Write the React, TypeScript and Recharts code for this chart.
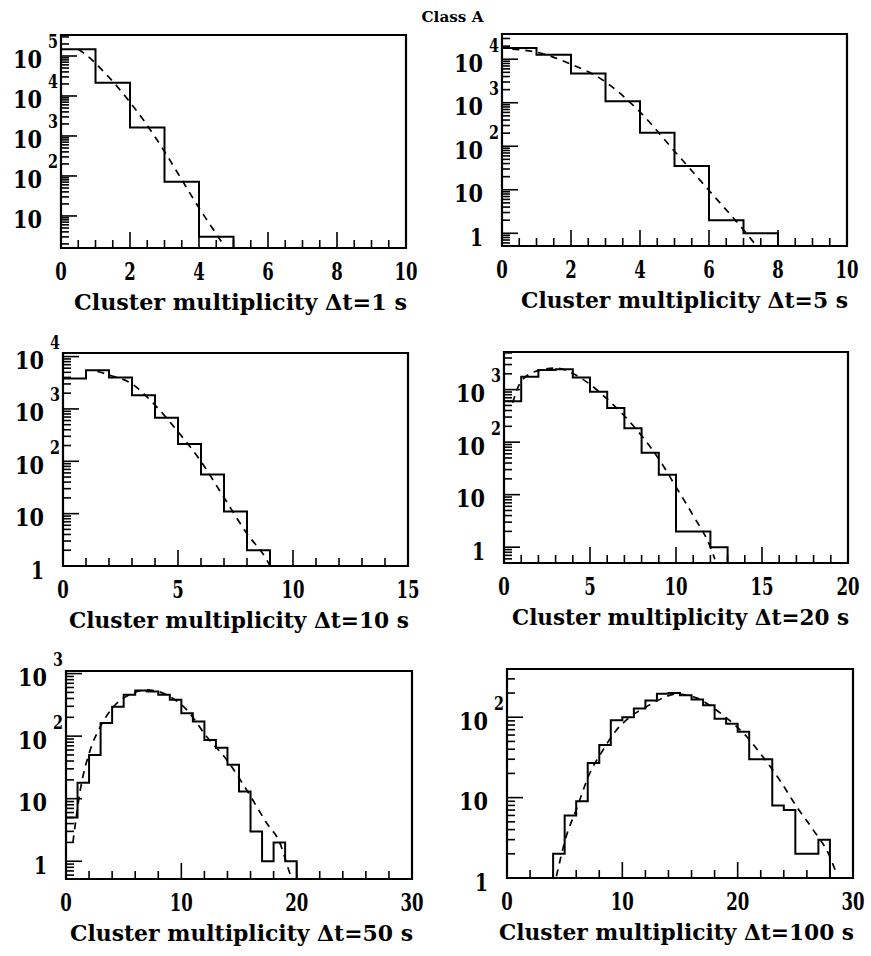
import React from "react";
import { ComposedChart, Line, XAxis, YAxis, ReferenceArea, Label } from "recharts";

// bin contents (unit-width bins)
const bins1s = [148000, 21500, 1620, 72, 3];
const bins5s = [18000, 12700, 4700, 1080, 205, 35, 2, 1];
const bins10s = [3800, 5500, 4000, 1830, 675, 213, 56, 11, 2];
const bins20s = [600, 1760, 2350, 2430, 1700, 910, 445, 184, 63, 24, 2, 2, 1];
const bins50s = [5, 18, 50, 162, 296, 457, 535, 515, 457, 380, 233, 171, 87, 65, 35, 13, 3, 1, 2, 1];
const bins100s = [2, 6, 9, 27, 45, 92, 100, 128, 162, 196, 200, 187, 166, 141, 96, 83, 66, 30, 30, 8, 7, 2, 2, 3];

// dashed fit curves, sampled along the drawn line
const fit1sX = [0.5, 0.65, 1.42, 1.95, 2.39, 2.97, 3.45, 3.98, 4.42, 4.71];
const fit1sY = [148000, 120000, 27500, 7900, 2500, 450, 95, 17, 4.5, 1.9];
const fit5sX = [0.3, 1.01, 1.98, 2.95, 3.96, 5.02, 6.04, 7.0, 7.39];
const fit5sY = [17000, 14500, 7800, 3200, 660, 74, 8.9, 1.2, 0.5];
const fit10sX = [1.5, 2.05, 3.0, 3.94, 4.95, 5.96, 6.98, 7.99, 8.86, 9.0];
const fit10sY = [5200, 4400, 3000, 1260, 390, 105, 21, 4.2, 1.3, 1];
const fit20sX = [0.5, 1.03, 2.09, 3.06, 4.03, 5.0, 6.0, 7.0, 8.0, 9.0, 10.0, 11.0, 12.0, 12.26];
const fit20sY = [560, 1500, 2350, 2570, 2000, 1260, 660, 316, 132, 48, 14, 4, 1, 0.59];
const fit50sX = [0.6, 1.24, 2.1, 2.97, 4.12, 5.86, 7.0, 8.74, 10.47, 12.2, 13.93, 15.66, 17.39, 18.55, 19.4, 19.6];
const fit50sY = [2, 13.8, 60, 141, 295, 490, 550, 457, 263, 98, 42, 13.8, 4.1, 1.95, 0.65, 0.52];
const fit100sX = [4.28, 5.14, 6.01, 7.17, 8.32, 9.48, 10.64, 12.08, 13.53, 14.68, 16.42, 18.15, 19.31, 20.75, 22.2, 23.64, 25.09, 26.53, 27.98, 28.55];
const fit100sY = [1.05, 3.3, 7.1, 20, 39, 69, 100, 135, 174, 195, 174, 123, 91, 58, 32, 16.6, 7.8, 4.0, 1.86, 1.15];

const titles = [
  "Cluster multiplicity \u0394t=1  s",
  "Cluster multiplicity \u0394t=5 s",
  "Cluster multiplicity \u0394t=10 s",
  "Cluster multiplicity \u0394t=20 s",
  "Cluster multiplicity \u0394t=50 s",
  "Cluster multiplicity \u0394t=100 s",
];

const FONT = "'DejaVu Serif Condensed', 'DejaVu Serif', serif";
const YW = 70;
const MT = 30;
const MR = 30;
const XH = 75;

type Panel = {
  title: string;
  titleW: number;
  bins: number[];
  start: number;
  fitX: number[];
  fitY: number[];
  xMax: number;
  xMajor: number;
  xMinor: number;
  yMin: number;
  yMax: number;
  l: number;
  r: number;
  t: number;
  b: number;
};

const panels: Panel[] = [
  { title: titles[0], titleW: 333, bins: bins1s, start: 0, fitX: fit1sX, fitY: fit1sY, xMax: 10, xMajor: 2, xMinor: 0.5, yMin: 1.58, yMax: 3.35e5, l: 61, r: 406, t: 35, b: 248 },
  { title: titles[1], titleW: 327, bins: bins5s, start: 0, fitX: fit5sX, fitY: fit5sY, xMax: 10, xMajor: 2, xMinor: 0.5, yMin: 0.51, yMax: 3.8e4, l: 502, r: 847, t: 34, b: 246 },
  { title: titles[2], titleW: 340, bins: bins10s, start: 0, fitX: fit10sX, fitY: fit10sY, xMax: 15, xMajor: 5, xMinor: 1, yMin: 1, yMax: 1.17e4, l: 63, r: 408, t: 353, b: 566 },
  { title: titles[3], titleW: 337, bins: bins20s, start: 0, fitX: fit20sX, fitY: fit20sY, xMax: 20, xMajor: 5, xMinor: 1, yMin: 0.5, yMax: 5.2e3, l: 504, r: 848, t: 352, b: 563 },
  { title: titles[4], titleW: 343, bins: bins50s, start: 0, fitX: fit50sX, fitY: fit50sY, xMax: 30, xMajor: 10, xMinor: 2, yMin: 0.52, yMax: 1.1e3, l: 66, r: 412, t: 671, b: 879 },
  { title: titles[5], titleW: 355, bins: bins100s, start: 4, fitX: fit100sX, fitY: fit100sY, xMax: 30, xMajor: 10, xMinor: 2, yMin: 1, yMax: 398, l: 507, r: 853, t: 669, b: 878 },
];

function histPoints(p: Panel) {
  const pts = [{ x: p.start, y: p.yMin }];
  p.bins.forEach((v, i) => pts.push({ x: p.start + i, y: v }));
  const end = p.start + p.bins.length;
  pts.push({ x: end, y: p.bins[p.bins.length - 1] });
  pts.push({ x: end, y: p.yMin });
  return pts;
}

function logTicks(lo: number, hi: number) {
  const out: number[] = [];
  for (let e = Math.floor(Math.log10(lo)); e <= Math.ceil(Math.log10(hi)); e++) {
    for (let k = 1; k < 10; k++) {
      const v = k * Math.pow(10, e);
      if (v >= lo && v <= hi) out.push(v);
    }
  }
  return out;
}

function XTick(props: any, major: number) {
  const { x, y, payload } = props;
  const v = payload.value;
  const isMajor = Math.abs(v / major - Math.round(v / major)) < 1e-6;
  const s = String(v);
  return (
    <g>
      <line x1={x} y1={y} x2={x} y2={y - (isMajor ? 16 : 8)} stroke="#000" strokeWidth={1.6} />
      {isMajor && (
        <text
          x={x}
          y={y + 32}
          textAnchor="middle"
          fontFamily={FONT}
          fontWeight="bold"
          fontSize={24}
          textLength={s.length * 11.5}
          lengthAdjust="spacingAndGlyphs"
          fill="#000"
        >
          {s}
        </text>
      )}
    </g>
  );
}

function YTick(props: any) {
  const { x, y, payload } = props;
  const v = payload.value;
  const e = Math.round(Math.log10(v));
  const isMajor = Math.abs(v - Math.pow(10, e)) < 1e-6 * v;
  const s = e === 0 ? "1" : "10";
  return (
    <g>
      <line x1={x} y1={y} x2={x + (isMajor ? 16 : 8)} y2={y} stroke="#000" strokeWidth={1.6} />
      {isMajor && (
        <text
          x={x - 19}
          y={y + 12.5}
          textAnchor="end"
          fontFamily={FONT}
          fontWeight="bold"
          fontSize={25}
          textLength={s.length === 1 ? 13 : 29}
          lengthAdjust="spacingAndGlyphs"
          fill="#000"
        >
          {s}
        </text>
      )}
      {isMajor && e > 1 && (
        <text
          x={x - 13}
          y={y - 7.5}
          textAnchor="start"
          fontFamily={FONT}
          fontWeight="bold"
          fontSize={18}
          textLength={10}
          lengthAdjust="spacingAndGlyphs"
          fill="#000"
        >
          {e}
        </text>
      )}
    </g>
  );
}

function HistPanel({ p }: { p: Panel }) {
  const plotW = p.r - p.l;
  const plotH = p.b - p.t;
  const xTicks: number[] = [];
  for (let i = 0; i * p.xMinor <= p.xMax + 1e-9; i++) xTicks.push(Math.round(i * p.xMinor * 1000) / 1000);
  const fit = p.fitX.map((x, i) => ({ x, y: p.fitY[i] }));
  return (
    <div style={{ position: "absolute", left: p.l - YW, top: p.t - MT }}>
      <ComposedChart
        width={YW + plotW + MR}
        height={MT + plotH + XH}
        margin={{ top: MT, right: MR, bottom: 0, left: 0 }}
        style={{ overflow: "visible" }}
      >
        <XAxis
          dataKey="x"
          type="number"
          domain={[0, p.xMax]}
          allowDataOverflow
          ticks={xTicks}
          interval={0}
          height={XH}
          axisLine={false}
          tickLine={false}
          tickSize={0}
          tickMargin={0}
          tick={(props: any) => XTick(props, p.xMajor)}
        >
          <Label
            content={(lp: any) => {
              const vb = lp.viewBox;
              return (
                <text
                  x={vb.x + vb.width + 1}
                  y={vb.y + 62}
                  textAnchor="end"
                  fontFamily={FONT}
                  fontWeight="bold"
                  fontSize={23}
                  textLength={p.titleW}
                  lengthAdjust="spacingAndGlyphs"
                  fill="#000"
                >
                  {p.title}
                </text>
              );
            }}
          />
        </XAxis>
        <YAxis
          type="number"
          scale="log"
          domain={[p.yMin, p.yMax]}
          allowDataOverflow
          ticks={logTicks(p.yMin, p.yMax)}
          interval={0}
          width={YW}
          axisLine={false}
          tickLine={false}
          tickSize={0}
          tickMargin={0}
          tick={YTick}
        />
        <ReferenceArea x1={0} x2={p.xMax} y1={p.yMin} y2={p.yMax} fill="none" fillOpacity={0} stroke="#000" strokeWidth={2.2} />
        <Line
          data={histPoints(p)}
          dataKey="y"
          type="stepAfter"
          stroke="#000"
          strokeWidth={2}
          dot={false}
          isAnimationActive={false}
        />
        <Line
          data={fit}
          dataKey="y"
          type="monotone"
          stroke="#000"
          strokeWidth={1.7}
          strokeDasharray="7 6"
          dot={false}
          isAnimationActive={false}
        />
      </ComposedChart>
    </div>
  );
}

export default function App() {
  return (
    <div style={{ position: "absolute", left: 0, top: 0, width: 871, height: 956, background: "#fff" }}>
      <svg width={871} height={30} style={{ position: "absolute", left: 0, top: 0 }}>
        <text
          x={452.5}
          y={21.5}
          textAnchor="middle"
          fontFamily={FONT}
          fontWeight="bold"
          fontSize={14}
          textLength={62}
          lengthAdjust="spacingAndGlyphs"
          fill="#000"
        >
          Class A
        </text>
      </svg>
      {panels.map((p, i) => (
        <HistPanel key={i} p={p} />
      ))}
    </div>
  );
}
